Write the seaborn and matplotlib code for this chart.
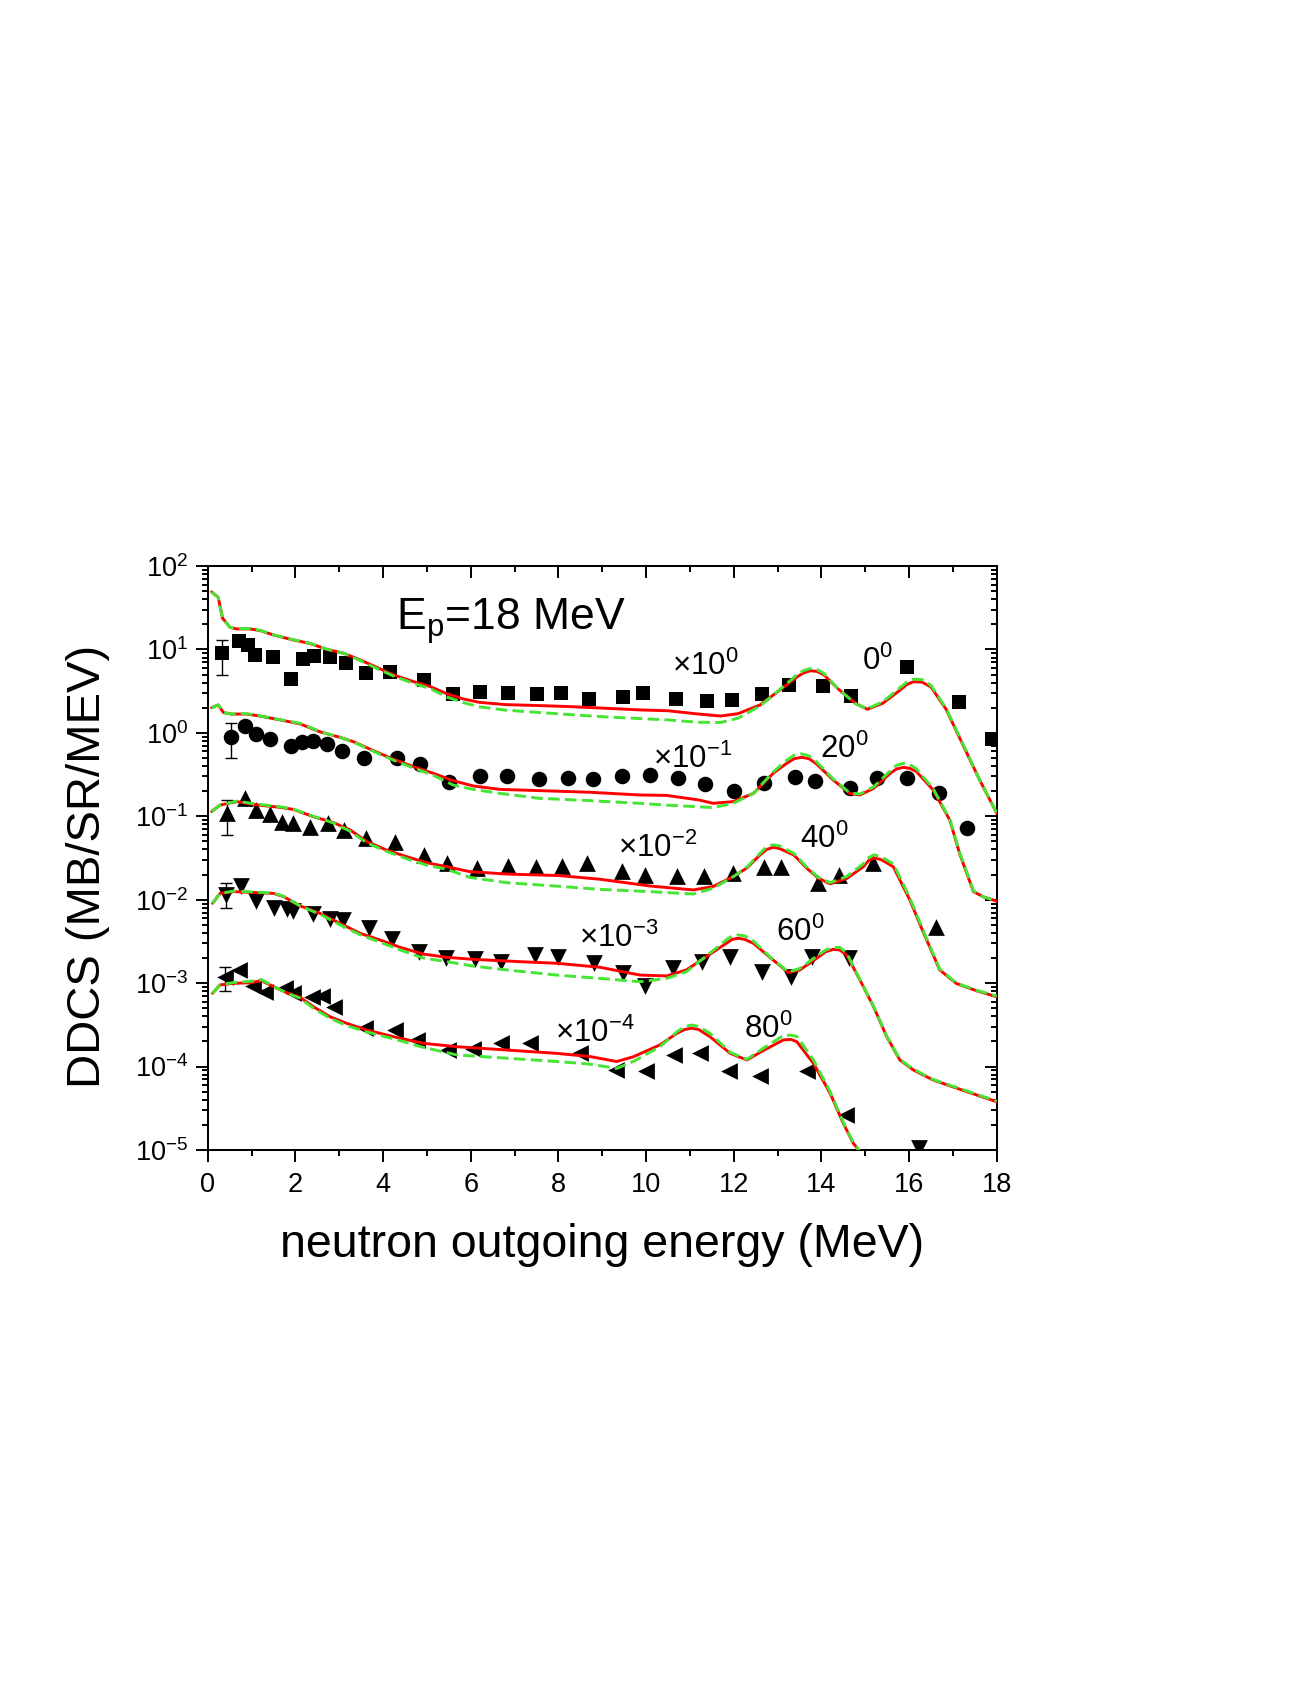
#DDCS for (p,n) at Ep=18 MeV, calc vs exp
import numpy as np
import matplotlib
matplotlib.use("Agg")
import matplotlib.pyplot as plt
import seaborn as sns
from matplotlib.ticker import MultipleLocator, LogLocator, LogFormatterSciNotation, NullFormatter

sns.set_style("ticks")
plt.rcParams['font.family'] = ['Liberation Sans', 'DejaVu Sans']
plt.rcParams['mathtext.fontset'] = 'custom'
plt.rcParams['mathtext.rm'] = 'Liberation Sans'
plt.rcParams['mathtext.it'] = 'Liberation Sans:italic'
plt.rcParams['mathtext.bf'] = 'Liberation Sans:bold'
for k in ['text.color', 'axes.labelcolor', 'xtick.color', 'ytick.color', 'axes.edgecolor']:
    plt.rcParams[k] = 'black'

# ---- calculated curves (values as plotted, already scaled) ----
x0 = [0.09, 0.24, 0.34, 0.51, 0.66, 0.97, 1.2, 1.5, 1.95, 2.33, 2.7, 3.1, 3.4, 3.8, 4.24, 4.7, 5.07, 5.45, 5.83,
      6.2, 6.8, 7.6, 8.3, 9.1, 9.9, 10.5, 11.2, 11.7, 12.1, 12.6, 13.05, 13.45, 13.6, 13.75, 13.9, 14.05, 14.4,
      14.8, 15.05, 15.4, 15.8, 15.95, 16.1, 16.3, 16.5, 16.85, 17.25, 17.6, 18.0]
red0 = [49, 42, 23.6, 18.4, 17.6, 17.6, 16.8, 14.9, 13.0, 11.8, 10.1, 9.0, 7.8, 6.3, 4.95, 4.1, 3.6, 2.95, 2.55,
        2.32, 2.18, 2.12, 2.06, 1.97, 1.88, 1.84, 1.68, 1.59, 1.70, 2.16, 3.25, 4.7, 5.25, 5.55, 5.45, 5.0, 3.3,
        2.22, 1.92, 2.26, 3.27, 3.8, 4.1, 4.05, 3.55, 1.9, 0.68, 0.28, 0.109]
green0 = [49, 42, 23.6, 18.4, 17.8, 17.8, 16.9, 15.0, 13.1, 11.9, 10.1, 9.0, 7.7, 6.1, 4.8, 3.9, 3.4, 2.7, 2.3,
          2.05, 1.87, 1.75, 1.65, 1.55, 1.48, 1.43, 1.34, 1.33, 1.5, 2.1, 3.3, 5.0, 5.6, 5.9, 5.75, 5.2, 3.3,
          2.2, 1.95, 2.35, 3.5, 4.05, 4.4, 4.35, 3.7, 1.95, 0.7, 0.28, 0.11]

x20 = [0.09, 0.24, 0.36, 0.55, 0.89, 1.19, 1.65, 2.11, 2.56, 3.02, 3.32, 3.78, 4.24, 4.69, 5.15, 5.6, 6.06, 6.67,
       7.58, 8.72, 9.86, 10.47, 11.2, 11.53, 11.99, 12.45, 12.9, 13.21, 13.38, 13.55, 13.72, 13.89, 14.27, 14.65,
       14.88, 15.19, 15.57, 15.72, 15.87, 16.02, 16.17, 16.55, 16.93, 17.16, 17.47, 17.7, 18.0]
red20 = [2.0, 2.16, 1.75, 1.68, 1.68, 1.59, 1.43, 1.28, 1.03, 0.883, 0.785, 0.612, 0.482, 0.394, 0.327, 0.267,
         0.231, 0.21, 0.203, 0.194, 0.18, 0.178, 0.157, 0.143, 0.150, 0.188, 0.327, 0.432, 0.49, 0.509, 0.49,
         0.424, 0.272, 0.188, 0.180, 0.216, 0.327, 0.37, 0.386, 0.375, 0.343, 0.207, 0.09, 0.035, 0.0125, 0.0108,
         0.0096]
green20 = [2.0, 2.16, 1.75, 1.68, 1.7, 1.6, 1.44, 1.3, 1.04, 0.88, 0.78, 0.6, 0.47, 0.38, 0.31, 0.237, 0.21, 0.188,
           0.164, 0.154, 0.143, 0.136, 0.13, 0.127, 0.143, 0.188, 0.34, 0.47, 0.54, 0.56, 0.53, 0.45, 0.28, 0.19,
           0.185, 0.225, 0.35, 0.41, 0.43, 0.415, 0.37, 0.215, 0.092, 0.036, 0.0128, 0.0108, 0.0097]

x40 = [0.09, 0.28, 0.66, 1.12, 1.65, 1.95, 2.41, 2.87, 3.25, 3.63, 4.08, 4.54, 4.99, 5.45, 5.98, 6.82, 8.0, 8.95,
       10.09, 11.08, 11.53, 11.99, 12.3, 12.6, 12.75, 12.9, 13.05, 13.37, 13.67, 13.93, 14.2, 14.58, 14.96, 15.08,
       15.2, 15.35, 15.64, 16.02, 16.32, 16.7, 17.08, 17.54, 18.0]
red40 = [0.114, 0.136, 0.150, 0.137, 0.128, 0.121, 0.099, 0.084, 0.0686, 0.0497, 0.0394, 0.0328, 0.0278, 0.0249,
         0.0217, 0.0203, 0.0195, 0.0176, 0.0146, 0.0131, 0.0144, 0.0189, 0.0240, 0.0344, 0.040, 0.0425, 0.041,
         0.0344, 0.0238, 0.0181, 0.0155, 0.018, 0.0249, 0.0295, 0.0316, 0.0305, 0.0249, 0.0099, 0.00414, 0.00144,
         0.00099, 0.00081, 0.000687]
green40 = [0.114, 0.136, 0.152, 0.14, 0.13, 0.122, 0.1, 0.083, 0.066, 0.048, 0.038, 0.031, 0.026, 0.0232, 0.0185,
           0.016, 0.0145, 0.0133, 0.0125, 0.0117, 0.0137, 0.0189, 0.0245, 0.036, 0.043, 0.0455, 0.044, 0.036, 0.0245,
           0.0185, 0.016, 0.019, 0.027, 0.032, 0.0345, 0.033, 0.027, 0.0105, 0.0043, 0.00148, 0.001, 0.00082,
           0.0007]

x60 = [0.11, 0.28, 0.59, 1.04, 1.5, 1.73, 2.11, 2.56, 3.02, 3.48, 3.93, 4.39, 4.92, 5.45, 6.06, 6.82, 7.96, 8.95,
       9.86, 10.47, 10.92, 11.37, 11.83, 11.97, 12.1, 12.25, 12.45, 12.9, 13.25, 13.51, 13.89, 14.1, 14.27, 14.42,
       14.58, 14.88, 15.19, 15.49, 15.79, 16.1, 16.55, 17.32, 18.0]
red60 = [0.00906, 0.0119, 0.0125, 0.0122, 0.0119, 0.0109, 0.00842, 0.00687, 0.00521, 0.00395, 0.00329, 0.00269,
         0.00223, 0.00204, 0.00193, 0.00184, 0.00173, 0.00155, 0.00125, 0.00122, 0.00144, 0.00207, 0.0030, 0.00335,
         0.00345, 0.00335, 0.0030, 0.00189, 0.00134, 0.00144, 0.00198, 0.00238, 0.00254, 0.0025, 0.00217, 0.00109,
         0.000523, 0.000229, 0.00012, 9.1e-5, 6.9e-5, 5.0e-5, 3.79e-5]
green60 = [0.00906, 0.0119, 0.0127, 0.0124, 0.012, 0.011, 0.0084, 0.0067, 0.005, 0.0038, 0.0031, 0.0025, 0.0020,
           0.00181, 0.0016, 0.00144, 0.00125, 0.00114, 0.00104, 0.00114, 0.00137, 0.0021, 0.0033, 0.0037, 0.00378,
           0.0037, 0.0032, 0.0019, 0.00136, 0.0015, 0.0021, 0.0025, 0.00266, 0.00269, 0.0023, 0.0011, 0.00053,
           0.000232, 0.000122, 9.3e-5, 7.0e-5, 5.1e-5, 3.85e-5]

x80 = [0.11, 0.28, 0.59, 0.97, 1.23, 1.5, 1.8, 2.11, 2.41, 2.79, 3.17, 3.63, 4.24, 4.92, 5.68, 6.82, 7.96, 8.72,
       9.33, 9.71, 10.32, 10.7, 10.88, 11.04, 11.2, 11.46, 11.92, 12.3, 12.67, 13.13, 13.3, 13.44, 13.82, 14.2,
       14.5, 14.73, 14.88]
red80 = [0.000755, 0.00095, 0.000996, 0.00101, 0.00107, 0.000908, 0.000769, 0.000676, 0.000522, 0.000396, 0.00033,
         0.000274, 0.000228, 0.00019, 0.000173, 0.000158, 0.000144, 0.000132, 0.000115, 0.000131, 0.000182, 0.00025,
         0.000278, 0.000288, 0.000278, 0.000228, 0.000144, 0.00012, 0.000155, 0.000208, 0.000212, 0.000199,
         0.000109, 4.78e-5, 2.09e-5, 1.2e-5, 9.5e-6]
green80 = [0.000755, 0.00095, 0.00102, 0.00105, 0.0011, 0.00092, 0.00076, 0.00066, 0.0005, 0.00038, 0.00031,
           0.00026, 0.000215, 0.00017, 0.000138, 0.000126, 0.000115, 0.000107, 9.5e-5, 0.000115, 0.000173, 0.00026,
           0.000302, 0.000315, 0.000302, 0.00025, 0.000148, 0.000122, 0.000165, 0.000235, 0.000238, 0.00023,
           0.00012, 5.0e-5, 2.15e-5, 1.22e-5, 9.6e-6]

# ---- experimental points (as plotted) ----
sq_x = [0.32, 0.715, 0.91, 1.08, 1.50, 1.90, 2.17, 2.43, 2.78, 3.16, 3.61, 4.17, 4.94, 5.60, 6.21, 6.84, 7.51, 8.05,
        8.71, 9.47, 9.94, 10.68, 11.40, 11.95, 12.64, 13.27, 14.03, 14.67, 15.95, 17.13, 17.89]
sq_y = [8.98, 12.6, 11.3, 8.58, 8.04, 4.38, 7.61, 8.33, 8.04, 6.94, 5.17, 5.42, 4.30, 2.90, 3.06, 2.98, 2.90, 2.98,
        2.55, 2.72, 3.03, 2.55, 2.41, 2.48, 2.90, 3.75, 3.68, 2.79, 6.21, 2.37, 0.84]
ci_x = [0.525, 0.85, 1.10, 1.41, 1.89, 2.14, 2.41, 2.73, 3.07, 3.57, 4.31, 4.84, 5.51, 6.21, 6.82, 7.56, 8.23, 8.78,
        9.46, 10.08, 10.74, 11.35, 12.01, 12.69, 13.40, 13.86, 14.65, 15.26, 15.96, 16.68, 17.32]
ci_y = [0.90, 1.21, 0.96, 0.84, 0.70, 0.785, 0.80, 0.736, 0.612, 0.495, 0.495, 0.424, 0.255, 0.304, 0.304, 0.277,
        0.285, 0.28, 0.304, 0.313, 0.29, 0.242, 0.201, 0.248, 0.299, 0.267, 0.216, 0.285, 0.29, 0.188, 0.0718]
up_x = [0.45, 0.84, 1.10, 1.42, 1.69, 1.95, 2.33, 2.75, 3.11, 3.61, 4.27, 4.94, 5.47, 6.14, 6.86, 7.48, 8.08, 8.65,
        9.45, 9.98, 10.71, 11.32, 11.99, 12.68, 13.09, 13.93, 14.41, 15.18, 16.62]
up_y = [0.1106, 0.164, 0.119, 0.1067, 0.0863, 0.084, 0.0752, 0.0824, 0.0686, 0.0544, 0.0497, 0.0344, 0.0273,
        0.0238, 0.0254, 0.0249, 0.0254, 0.0273, 0.022, 0.0198, 0.0192, 0.0192, 0.0207, 0.0249, 0.0249, 0.0157,
        0.0198, 0.0273, 0.00475]
dn_x = [0.42, 0.75, 1.10, 1.51, 1.80, 1.94, 2.41, 2.78, 3.08, 3.69, 4.20, 4.83, 5.44, 6.10, 6.68, 7.47, 8.00, 8.81,
        9.47, 9.98, 10.61, 11.27, 11.92, 12.64, 13.30, 13.78, 14.62, 16.23]
dn_y = [0.0114, 0.0146, 0.00975, 0.00804, 0.00767, 0.0074, 0.00675, 0.00582, 0.00571, 0.00454, 0.00335, 0.00238,
        0.00198, 0.00193, 0.00181, 0.00217, 0.00207, 0.00176, 0.00134, 0.000925, 0.00151, 0.00181, 0.00207,
        0.00137, 0.00117, 0.00204, 0.00201, 1.05e-5]
lf_x = [0.395, 0.72, 1.04, 1.31, 1.76, 1.95, 2.37, 2.60, 2.87, 3.59, 4.27, 4.78, 5.49, 6.06, 6.68, 7.35, 8.49, 9.31,
        10.0, 10.64, 11.23, 11.90, 12.59, 13.68, 14.56]
lf_y = [0.0012, 0.00144, 0.000925, 0.000791, 0.000867, 0.000755, 0.000689, 0.000702, 0.000522, 0.000288, 0.000275,
        0.000208, 0.000158, 0.000161, 0.000194, 0.00019, 0.000144, 9.0e-5, 8.9e-5, 0.000138, 0.000147, 8.9e-5,
        7.7e-5, 8.9e-5, 2.62e-5]

# error bars on first point of each angle
err_x = [0.32, 0.525, 0.45, 0.42, 0.395]
err_y = [8.98, 0.90, 0.1106, 0.0114, 0.0012]
err_lo = [4.94, 0.495, 0.0597, 0.00804, 0.000805]
err_hi = [13.0, 1.30, 0.157, 0.0159, 0.00158]

scale_labels = ['×$\\mathregular{10^{0}}$', '×$\\mathregular{10^{-1}}$', '×$\\mathregular{10^{-2}}$',
                '×$\\mathregular{10^{-3}}$', '×$\\mathregular{10^{-4}}$']
angle_labels = ['$\\mathregular{0^{0}}$', '$\\mathregular{20^{0}}$', '$\\mathregular{40^{0}}$',
                '$\\mathregular{60^{0}}$', '$\\mathregular{80^{0}}$']

W, H = 1308, 1692
fig = plt.figure(figsize=(W / 100, H / 100), dpi=100)
ax = fig.add_axes([207.7 / W, 1 - 1150 / H, 789 / W, 584 / H])

RED = '#ff0000'
GREEN = '#44e533'

# experimental points
for xs, ys, mk, s in [(sq_x, sq_y, 's', 100), (ci_x, ci_y, 'o', 125), (up_x, up_y, '^', 145),
                      (dn_x, dn_y, 'v', 145), (lf_x, lf_y, '<', 145)]:
    sns.scatterplot(x=xs, y=ys, marker=mk, s=s, color='black', linewidth=0, ax=ax, zorder=3)

ey = np.array(err_y)
ax.errorbar(err_x, err_y, yerr=[ey - np.array(err_lo), np.array(err_hi) - ey], fmt='none',
            ecolor='black', elinewidth=1.0, capsize=4.5, capthick=1.0, zorder=3)

# calculations: red solid, green dashed on top
for xs, r, g in [(x0, red0, green0), (x20, red20, green20), (x40, red40, green40),
                 (x60, red60, green60), (x80, red80, green80)]:
    sns.lineplot(x=xs, y=r, color=RED, lw=2.1, sort=False, estimator=None, ax=ax, zorder=4)
    sns.lineplot(x=xs, y=g, color=GREEN, lw=2.1, linestyle=(0, (4, 1.8)), sort=False, estimator=None,
                 ax=ax, zorder=5)

ax.set_yscale('log')
ax.set_xlim(0, 18)
ax.set_ylim(1e-5, 1e2)

ax.xaxis.set_major_locator(MultipleLocator(2))
ax.xaxis.set_minor_locator(MultipleLocator(1))
ax.yaxis.set_major_locator(LogLocator(base=10, numticks=20))
ax.yaxis.set_minor_locator(LogLocator(base=10, subs=np.arange(2, 10), numticks=20))
ax.yaxis.set_major_formatter(LogFormatterSciNotation())
ax.yaxis.set_minor_formatter(NullFormatter())

for sp in ax.spines.values():
    sp.set_visible(True)
    sp.set_linewidth(1.45)
    sp.set_color('black')

ax.tick_params(which='both', direction='out', width=1.4, color='black', top=False, right=False)
ax.tick_params(which='major', length=8.6)
ax.tick_params(which='minor', length=4.5)
ax.tick_params(axis='x', labelsize=19.5, pad=7)
ax.tick_params(axis='y', labelsize=19.5, pad=5.5)

secx = ax.secondary_xaxis('top')
secx.xaxis.set_major_locator(MultipleLocator(2))
secx.xaxis.set_minor_locator(MultipleLocator(1))
secx.tick_params(which='both', direction='in', width=1.4, labeltop=False)
secx.tick_params(which='major', length=8.6)
secx.tick_params(which='minor', length=4.5)
secx.spines['top'].set_linewidth(1.45)

secy = ax.secondary_yaxis('right')
secy.yaxis.set_major_locator(LogLocator(base=10, numticks=20))
secy.yaxis.set_minor_locator(LogLocator(base=10, subs=np.arange(2, 10), numticks=20))
secy.tick_params(which='both', direction='in', width=1.4, labelright=False)
secy.tick_params(which='major', length=8.6)
secy.tick_params(which='minor', length=4.5)
secy.spines['right'].set_linewidth(1.45)

ax.set_xlabel('neutron outgoing energy (MeV)', fontsize=33.5)
ax.xaxis.set_label_coords(0.5, -0.125)
ax.set_ylabel('DDCS (MB/SR/MEV)', fontsize=34)
ax.yaxis.set_label_coords(-0.124, 0.485)

ax.text(4.30, 17.4, 'E$_{\\mathregular{p}}$=18 MeV', fontsize=32, ha='left', va='baseline')

scale_pos = [(10.59, 4.94), (10.17, 0.376), (9.37, 0.0328), (8.48, 0.00274), (7.92, 0.000199)]
angle_pos = [(14.92, 5.67), (13.97, 0.495), (13.51, 0.0413), (12.96, 0.0032), (12.24, 0.000218)]
for (px, py), lab in zip(scale_pos, scale_labels):
    ax.text(px, py, lab, fontsize=22.5, ha='left', va='baseline')
for (px, py), lab in zip(angle_pos, angle_labels):
    ax.text(px, py, lab, fontsize=22.5, ha='left', va='baseline')

fig.savefig('out.png', dpi=100)
